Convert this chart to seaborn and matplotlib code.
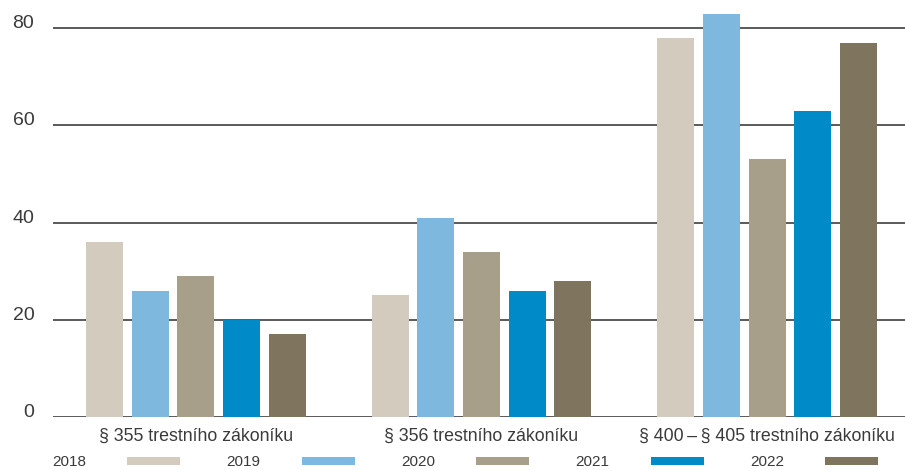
import pandas as pd
import seaborn as sns
import matplotlib.pyplot as plt

# data
categories = ['§ 355 trestního zákoníku', '§ 356 trestního zákoníku',
              '§ 400\u2009–\u2009§ 405 trestního zákoníku']
years = ['2018', '2019', '2020', '2021', '2022']
values_2018 = [36, 25, 78]
values_2019 = [26, 41, 83]
values_2020 = [29, 34, 53]
values_2021 = [20, 26, 63]
values_2022 = [17, 28, 77]
year_colors = ['#D3CBBE', '#7EB8DF', '#A79F8A', '#008BC8', '#7F755E']
y_ticks = [0, 20, 40, 60, 80]

series = [values_2018, values_2019, values_2020, values_2021, values_2022]
rows = []
for year, vals in zip(years, series):
    for cat, v in zip(categories, vals):
        rows.append({'category': cat, 'year': year, 'value': v})
df = pd.DataFrame(rows)

sns.set_style('white')
plt.rcParams['font.family'] = ['Liberation Sans', 'DejaVu Sans']
text_color = '#3a3a3a'

fig = plt.figure(figsize=(9.05, 4.7), dpi=100)
ax = fig.add_axes([53 / 905, 1 - 417 / 470, 1 - 53 / 905, 417 / 470])

sns.barplot(data=df, x='category', y='value', hue='year', order=categories,
            hue_order=years, palette=year_colors, width=0.8, gap=0.19,
            saturation=1, linewidth=0, ax=ax)

ax.set_xlim(-0.5, 2.4825)
ax.set_ylim(0, 85.8)
ax.set_yticks(y_ticks)
ax.set_axisbelow(True)
ax.yaxis.grid(True, color='#5a5a5a', linewidth=1.4)
ax.xaxis.grid(False)
for s in ax.spines.values():
    s.set_visible(False)

ax.set_xlabel('')
ax.set_ylabel('')
ax.tick_params(axis='y', length=0, pad=13.5, labelsize=14, labelcolor=text_color)
ax.tick_params(axis='x', length=0, pad=8, labelsize=12.8, labelcolor=text_color)
for lbl in ax.get_yticklabels():
    lbl.set_va('baseline')

handles, labels = ax.get_legend_handles_labels()
ax.get_legend().remove()
fig.legend(handles, labels, loc='center left', bbox_to_anchor=(52 / 905, 1 - 462.5 / 470),
           ncol=5, frameon=False, markerfirst=False, fontsize=11,
           handlelength=3.45, handleheight=0.5, handletextpad=2.7,
           columnspacing=3.05, borderpad=0, borderaxespad=0, labelcolor=text_color)

fig.savefig('out.png', dpi=100)
